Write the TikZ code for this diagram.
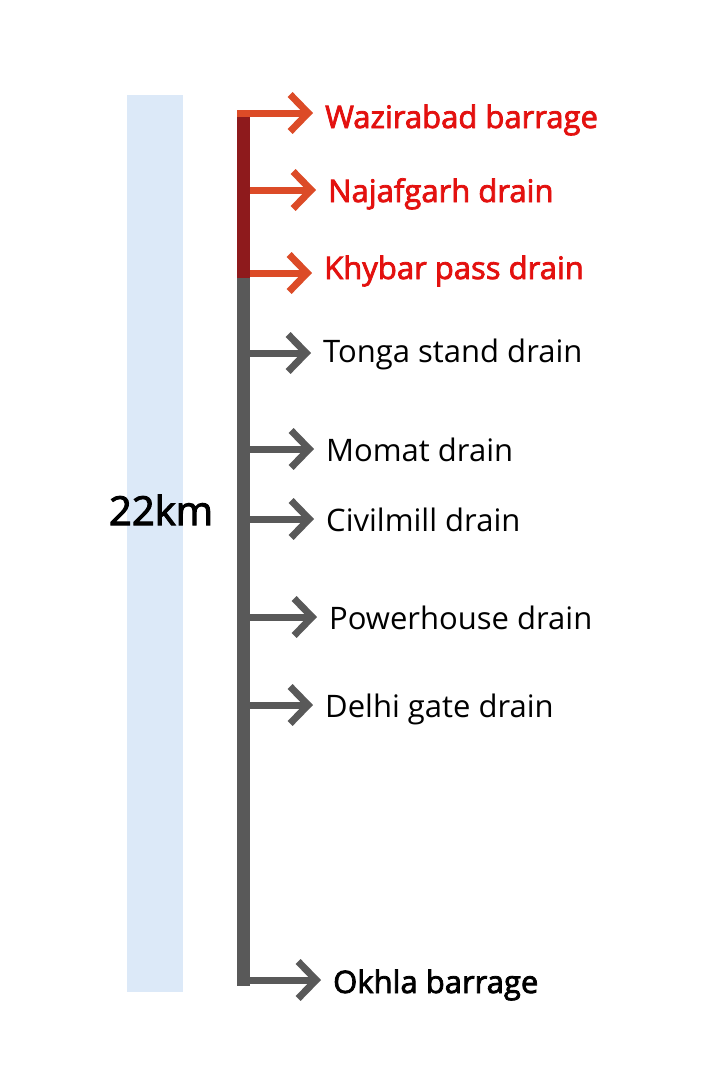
\documentclass[tikz,border=0pt]{standalone}
\usepackage{fontspec}
\setmainfont{Open Sans}
\newfontfamily\medfont{Open Sans}[FakeBold=2.5]
\usepackage{xcolor}
\usetikzlibrary{arrows.meta}
\definecolor{barblue}{HTML}{DCE9F8}
\definecolor{trunkred}{HTML}{8E1A1C}
\definecolor{tipred}{HTML}{DC4B27}
\definecolor{labelred}{HTML}{E3110F}
\definecolor{trunkgray}{HTML}{595959}

\begin{document}
\begin{tikzpicture}[x=1pt,y=-1pt,
		drainlabel/.style={anchor=base west,inner sep=0pt,font=\fontsize{31}{36}\selectfont},
		hotlabel/.style={drainlabel,text=labelred,font=\fontsize{31}{36}\selectfont\medfont},
		branch/.style={draw=trunkgray,line width=7pt,-{Straight Barb[length=18pt,width=37pt]},shorten >=12pt},
		hotbranch/.style={branch,draw=tipred},
		trunk/.style={line width=13pt}]
		\useasboundingbox (0,0) rectangle (720,1080);
				\fill[barblue] (127,95) rectangle (183,992);
				\node[anchor=base,inner sep=0pt,font=\fontsize{40}{48}\selectfont\medfont] (length) at (161,525) {22km};
				\coordinate (top) at (243.5,117);
				\coordinate (split) at (243.5,278);
				\coordinate (bottom) at (243.5,986);
				\draw[trunk,trunkred] (top) -- (split);
				\draw[trunk,trunkgray] (split) -- (bottom);
				\node[hotlabel] (wazirabad) at (325,128) {Wazirabad barrage};
				\node[hotlabel] (najafgarh) at (328,202) {Najafgarh drain};
				\node[hotlabel] (khybar) at (324,279) {Khybar pass drain};
				\node[drainlabel] (tonga) at (323,362) {Tonga stand drain};
				\node[drainlabel] (momat) at (326,461) {Momat drain};
				\node[drainlabel] (civilmill) at (326,531) {Civilmill drain};
				\node[drainlabel] (powerhouse) at (329,629) {Powerhouse drain};
				\node[drainlabel] (delhigate) at (325,717) {Delhi gate drain};
				\node[drainlabel,font=\fontsize{31}{36}\selectfont\medfont] (okhla) at (333,993) {Okhla barrage};
				\coordinate (b1) at (237,113);
				\coordinate (b2) at (250,190);
				\coordinate (b3) at (250,273);
				\coordinate (b4) at (250,353);
				\coordinate (b5) at (250,449);
				\coordinate (b6) at (250,519);
				\coordinate (b7) at (250,617);
				\coordinate (b8) at (250,705);
				\coordinate (b9) at (237,980);
				\draw[hotbranch] (b1) -- (b1 -| wazirabad.west);
				\draw[hotbranch] (b2) -- (b2 -| najafgarh.west);
				\draw[hotbranch] (b3) -- (b3 -| khybar.west);
				\draw[branch] (b4) -- (b4 -| tonga.west);
				\draw[branch] (b5) -- (b5 -| momat.west);
				\draw[branch] (b6) -- (b6 -| civilmill.west);
				\draw[branch] (b7) -- (b7 -| powerhouse.west);
				\draw[branch] (b8) -- (b8 -| delhigate.west);
				\draw[branch] (b9) -- (b9 -| okhla.west);
		\end{tikzpicture}
\end{document}
